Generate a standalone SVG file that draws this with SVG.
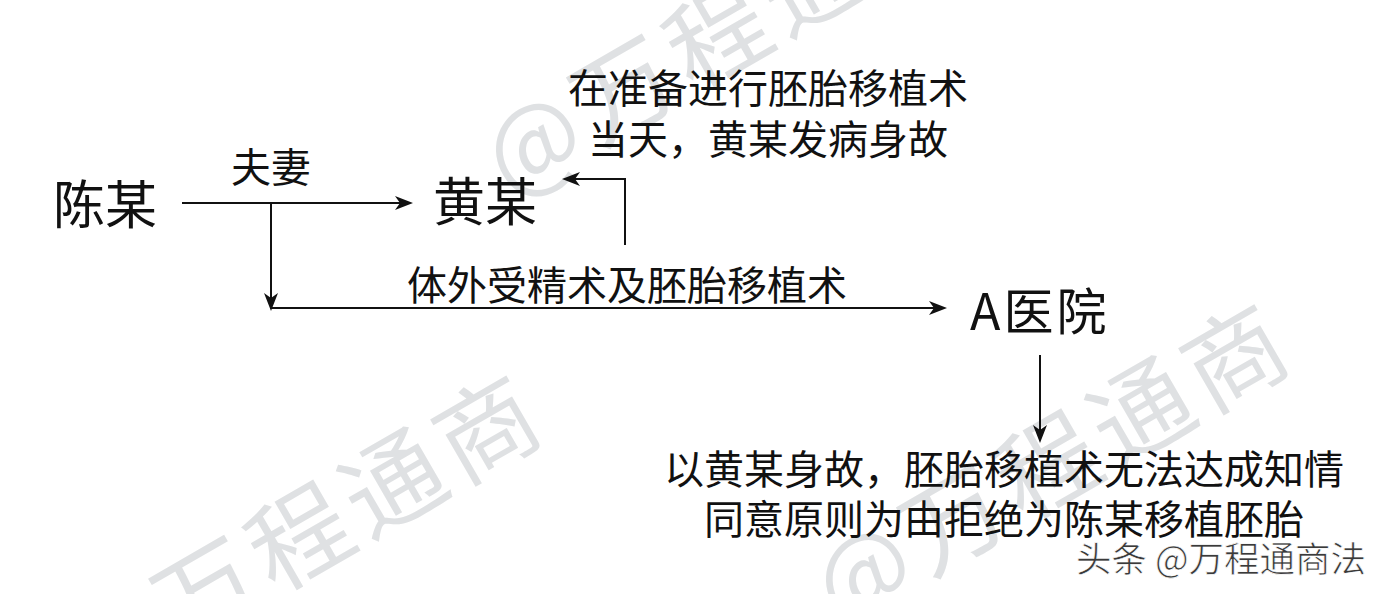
<svg xmlns="http://www.w3.org/2000/svg" width="1384" height="594" viewBox="0 0 1384 594">
  <style>
    .t { font-family: "Noto Sans CJK SC", "Noto Sans", sans-serif; fill: #111; }
    .big { font-size: 52px; }
    .mid { font-size: 40px; }
    .wm { font-family: "Noto Sans CJK SC", "Noto Sans", sans-serif; font-size: 100px; fill: #dfe1e3; letter-spacing: 8px; }
    .conn { stroke: #111; stroke-width: 2; fill: none; }
    .credit { font-family: "Noto Sans CJK SC", "Noto Sans", sans-serif; font-size: 35.5px; fill: #3a3a3a; stroke: #ffffff; stroke-width: 0.7; }
  </style>
  <defs>
    <marker id="arrow" markerUnits="userSpaceOnUse" markerWidth="20" markerHeight="16" refX="8" refY="7" orient="auto" overflow="visible">
      <path d="M0,0 L18,7 L0,14 L5,7 Z" fill="#111"/>
    </marker>
  </defs>
  <rect x="0" y="0" width="1384" height="594" fill="#ffffff"/>

  <g id="watermarks">
    <text class="wm" transform="translate(181,648) rotate(-30)">万程通商</text>
    <text class="wm" transform="translate(510,198) rotate(-30)">@万程通商</text>
    <text class="wm" transform="translate(840,628) rotate(-30)">@万程通商</text>
  </g>

  <g id="connectors">
    <line class="conn" x1="182" y1="203" x2="403" y2="203" marker-end="url(#arrow)"/>
    <line class="conn" x1="271" y1="203" x2="271" y2="301" marker-end="url(#arrow)"/>
    <line class="conn" x1="270" y1="308" x2="937" y2="308" marker-end="url(#arrow)"/>
    <path class="conn" d="M625,245 V179 H572" marker-end="url(#arrow)"/>
    <line class="conn" x1="1040" y1="355" x2="1040" y2="433" marker-end="url(#arrow)"/>
  </g>

  <g id="label-couple">
    <text class="t mid" x="271" y="182" text-anchor="middle">夫妻</text>
  </g>
  <g id="label-ivf">
    <text class="t mid" x="627" y="300" text-anchor="middle">体外受精术及胚胎移植术</text>
  </g>

  <g id="node-chen">
    <text class="t big" x="53" y="224">陈某</text>
  </g>
  <g id="node-huang">
    <text class="t big" x="485" y="221" text-anchor="middle">黄某</text>
  </g>
  <g id="node-hospital">
    <text class="t" x="970" y="330" font-size="50" letter-spacing="3">A医院</text>
  </g>
  <g id="node-death">
    <text class="t mid" x="768" y="103" text-anchor="middle">在准备进行胚胎移植术</text>
    <text class="t mid" x="768" y="154" text-anchor="middle">当天，黄某发病身故</text>
  </g>
  <g id="node-refusal">
    <text class="t mid" x="1004" y="484" text-anchor="middle">以黄某身故，胚胎移植术无法达成知情</text>
    <text class="t mid" x="1004" y="534" text-anchor="middle">同意原则为由拒绝为陈某移植胚胎</text>
  </g>

  <g id="credit">
    <text class="credit" x="1076" y="572">头条 @万程通商法</text>
  </g>
</svg>
